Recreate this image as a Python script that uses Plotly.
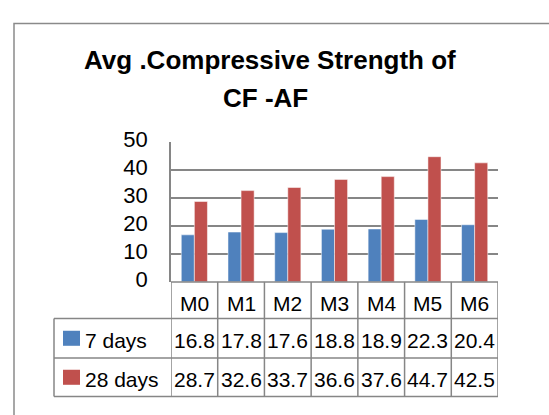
import plotly.graph_objects as go

# ---- data ----
categories = ["M0", "M1", "M2", "M3", "M4", "M5", "M6"]
series_names = ["7 days", "28 days"]
days7 = [16.8, 17.8, 17.6, 18.8, 18.9, 22.3, 20.4]
days28 = [28.7, 32.6, 33.7, 36.6, 37.6, 44.7, 42.5]
y_ticks = [0, 10, 20, 30, 40, 50]
title_lines = ["Avg .Compressive Strength of", "CF -AF"]

colors = ["#4F81BD", "#C0504D"]
W, H = 549, 415
FONT = "Liberation Sans, Arial, sans-serif"
GRID = "#868686"


def px(x):
    return x / W


def py(y):
    return 1 - y / H


# plot area & table geometry (pixels)
plot_l, plot_r, plot_t, plot_b = 171, 498, 135, 284
row_edges = [284, 323, 365, 406]
table_left = 54

fig = go.Figure()
for name, vals, c in zip(series_names, [days7, days28], colors):
    fig.add_bar(
        x=categories, y=vals, name=name,
        marker=dict(color=c, line=dict(color="rgba(255,255,255,0.5)", width=1)),
    )

fig.update_layout(
    width=W, height=H,
    margin=dict(l=0, r=0, t=0, b=0),
    paper_bgcolor="white", plot_bgcolor="white",
    showlegend=False, barmode="group", bargap=0.44, bargroupgap=0,
)
fig.update_xaxes(
    domain=[px(plot_l), px(plot_r)], range=[-0.5, len(categories) - 0.5],
    showticklabels=False, showline=False, ticks="", showgrid=False, zeroline=False,
)
fig.update_yaxes(
    domain=[py(plot_b), py(plot_t)], range=[0, 50], tickvals=y_ticks,
    showgrid=True, gridcolor=GRID, gridwidth=1.5,
    showline=True, linecolor=GRID, linewidth=1.5, zeroline=False,
    tickfont=dict(family=FONT, size=22, color="black"),
    ticklabelstandoff=17, ticklabelshift=-3,
)

shapes = []
line = dict(color=GRID, width=1.5)
# outer chart frame
shapes.append(dict(type="rect", xref="paper", yref="paper",
                   x0=px(14), y0=py(430), x1=px(570), y1=py(9),
                   line=dict(color="#8a8a8a", width=1.5)))
# horizontal table rules
shapes.append(dict(type="line", xref="paper", yref="paper",
                   x0=px(plot_l), x1=px(plot_r), y0=py(row_edges[0]), y1=py(row_edges[0]), line=line))
for yy in row_edges[1:]:
    shapes.append(dict(type="line", xref="paper", yref="paper",
                       x0=px(table_left), x1=px(plot_r), y0=py(yy), y1=py(yy), line=line))
# vertical table rules at category boundaries
for i in range(len(categories) + 1):
    shapes.append(dict(type="line", xref="x", yref="paper",
                       x0=i - 0.5, x1=i - 0.5, y0=py(row_edges[-1]), y1=py(row_edges[0]), line=line))
shapes.append(dict(type="line", xref="paper", yref="paper",
                   x0=px(table_left), x1=px(table_left), y0=py(row_edges[-1]), y1=py(row_edges[1]), line=line))

annotations = []
# two-line chart title
title_font = dict(family=FONT, size=26, color="black", weight="bold")
for txt, xc, yc in zip(title_lines, [270, 265], [48, 88]):
    annotations.append(dict(x=px(xc), y=py(yc), xref="paper", yref="paper", text=txt,
                            showarrow=False, font=title_font, xanchor="center", yanchor="middle"))

cell_font = dict(family=FONT, size=21, color="black")
cat_mid = (row_edges[0] + row_edges[1]) / 2 + 4
for c in categories:
    annotations.append(dict(x=c, y=py(cat_mid), xref="x", yref="paper", text=c,
                            showarrow=False, font=cell_font, xanchor="center", yanchor="middle"))
for r, (name, vals, col) in enumerate(zip(series_names, [days7, days28], colors)):
    mid = (row_edges[r + 1] + row_edges[r + 2]) / 2 + 2
    for c, v in zip(categories, vals):
        annotations.append(dict(x=c, y=py(mid), xref="x", yref="paper", text=f"{v:.1f}",
                                showarrow=False, font=cell_font, xanchor="center", yanchor="middle"))
    annotations.append(dict(x=px(83), y=py(mid), xref="paper", yref="paper", text=name,
                            showarrow=False, font=cell_font, xanchor="left", yanchor="middle"))
    shapes.append(dict(type="rect", xref="paper", yref="paper",
                       x0=px(63), x1=px(80), y0=py(mid + 6), y1=py(mid - 10),
                       fillcolor=col, line=dict(width=0)))

fig.update_layout(shapes=shapes, annotations=annotations)
fig.write_html("out.html")
